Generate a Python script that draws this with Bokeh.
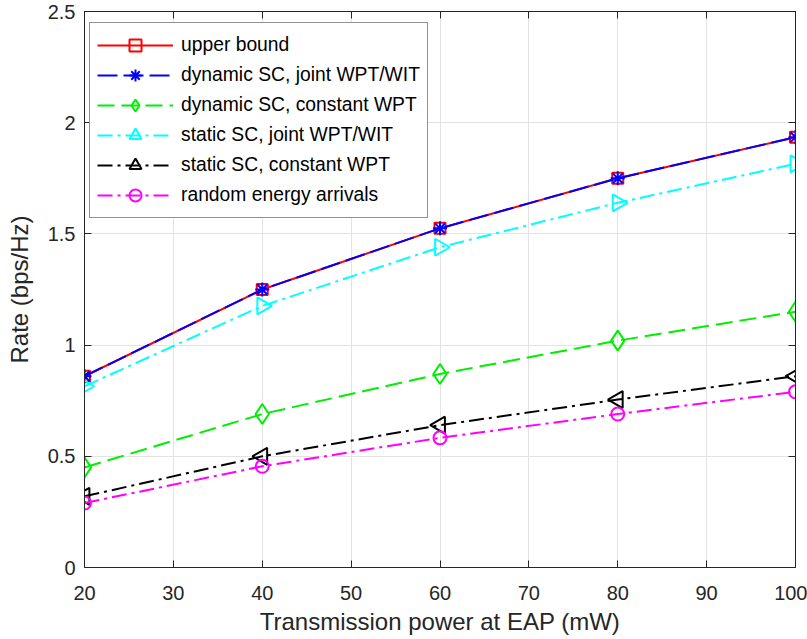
import math
from bokeh.plotting import figure
from bokeh.models import LinearAxis, Range1d, FixedTicker, Legend, LegendItem
from bokeh.embed import file_html
from bokeh.resources import INLINE

power = [20, 40, 60, 80, 100]
upper_bound = [0.86, 1.25, 1.525, 1.75, 1.935]
dyn_joint = [0.86, 1.25, 1.525, 1.75, 1.935]
dyn_const = [0.45, 0.69, 0.87, 1.02, 1.15]
stat_joint = [0.815, 1.176, 1.44, 1.64, 1.815]
stat_const = [0.32, 0.50, 0.64, 0.755, 0.86]
random_arr = [0.29, 0.455, 0.583, 0.69, 0.79]

x_ticks = [20, 30, 40, 50, 60, 70, 80, 90, 100]
y_ticks = [0, 0.5, 1, 1.5, 2, 2.5]
y_tick_labels = {0: "0", 0.5: "0.5", 1: "1", 1.5: "1.5", 2: "2", 2.5: "2.5"}

FONT = "Liberation Sans"
AX = "#262626"

p = figure(width=807, height=639, output_backend="svg", toolbar_location=None,
           x_range=Range1d(20, 100), y_range=Range1d(0, 2.5),
           min_border_left=84, min_border_right=12, min_border_top=11, min_border_bottom=72)
p.outline_line_color = AX
p.outline_line_width = 1
p.background_fill_color = "white"

for ax in (p.xaxis[0], p.yaxis[0]):
    ax.axis_line_color = AX
    ax.major_tick_line_color = AX
    ax.major_tick_in = 7
    ax.major_tick_out = 0
    ax.minor_tick_in = 0
    ax.minor_tick_out = 0
    ax.major_label_text_font = FONT
    ax.major_label_text_font_size = "20px"
    ax.major_label_text_color = AX
    ax.axis_label_text_font = FONT
    ax.axis_label_text_font_size = "24px"
    ax.axis_label_text_font_style = "normal"
    ax.axis_label_text_color = AX

p.xaxis[0].ticker = FixedTicker(ticks=x_ticks)
p.yaxis[0].ticker = FixedTicker(ticks=y_ticks)
p.yaxis[0].major_label_overrides = y_tick_labels
p.xaxis[0].axis_label = "Transmission power at EAP (mW)"
p.yaxis[0].axis_label = "Rate (bps/Hz)"
p.xaxis[0].major_label_standoff = 18
p.xaxis[0].axis_label_standoff = 5
p.yaxis[0].major_label_standoff = 9
p.yaxis[0].axis_label_standoff = 12

top_ax = LinearAxis(ticker=FixedTicker(ticks=x_ticks), major_label_text_font_size="1px",
                    major_label_text_color=None, major_label_standoff=0,
                    major_tick_in=7, major_tick_out=0,
                    minor_tick_in=0, minor_tick_out=0, axis_line_color=AX, major_tick_line_color=AX)
right_ax = LinearAxis(ticker=FixedTicker(ticks=y_ticks), major_label_text_font_size="1px",
                      major_label_text_color=None, major_label_standoff=0,
                      major_tick_in=7, major_tick_out=0,
                      minor_tick_in=0, minor_tick_out=0, axis_line_color=AX, major_tick_line_color=AX)
p.add_layout(top_ax, "above")
p.add_layout(right_ax, "right")

p.xgrid.grid_line_color = "#e3e3e3"
p.ygrid.grid_line_color = "#e3e3e3"
p.xgrid.grid_line_width = 1
p.ygrid.grid_line_width = 1

LW = 2
series = [
    ("upper bound", upper_bound, "red", "solid", "square", 11, 0.0),
    ("dynamic SC, joint WPT/WIT", dyn_joint, "blue", "20 6", "asterisk", 14, 0.0),
    ("dynamic SC, constant WPT", dyn_const, "#00ee00", "17 7", "diamond", 20, 0.0),
    ("static SC, joint WPT/WIT", stat_joint, "cyan", "15 5 3 5", "triangle", 17, -math.pi / 2),
    ("static SC, constant WPT", stat_const, "black", "15 5 3 5", "triangle", 17, math.pi / 2),
    ("random energy arrivals", random_arr, "magenta", "15 5 3 5", "circle", 13, 0.0),
]

items = []
for label, ys, color, dash, marker, size, ang in series:
    r1 = p.line(power, ys, line_color=color, line_width=LW, line_dash=dash)
    r2 = p.scatter(power, ys, marker=marker, size=size, angle=ang, line_color=color,
                   line_width=LW, fill_color=None)
    items.append(LegendItem(label=label, renderers=[r1, r2]))

legend = Legend(items=items, location=(5, 349))
legend.border_line_color = AX
legend.border_line_width = 1
legend.background_fill_color = "white"
legend.background_fill_alpha = 1
legend.label_text_font = FONT
legend.label_text_font_size = "19.3px"
legend.label_text_color = "black"
legend.glyph_width = 76
legend.glyph_height = 30
legend.label_height = 30
legend.spacing = 0
legend.padding = 7
legend.margin = 0
legend.label_standoff = 8
p.add_layout(legend, "center")

open("out.html", "w").write(file_html(p, INLINE))
